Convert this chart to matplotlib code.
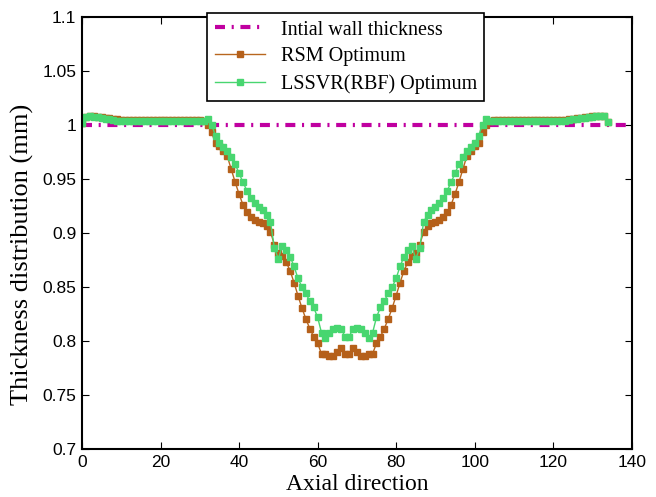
import numpy as np
import matplotlib.pyplot as plt

# axial node index
axial = np.arange(135)

# LSSVR(RBF) optimum thickness (mm)
lssvr = [1.002, 1.007, 1.008, 1.0075, 1.007, 1.006, 1.0055, 1.005, 1.0045, 1.004,
         1.004, 1.004, 1.004, 1.004, 1.004, 1.004, 1.004, 1.004, 1.004, 1.004,
         1.004, 1.004, 1.004, 1.004, 1.004, 1.004, 1.004, 1.004, 1.004, 1.004,
         1.004, 1.004, 1.005, 1.000, 0.990, 0.983, 0.9795, 0.976, 0.970, 0.964,
         0.955, 0.947, 0.939, 0.932, 0.928, 0.924, 0.921, 0.917, 0.910, 0.886,
         0.876, 0.888, 0.884, 0.878, 0.869, 0.858, 0.850, 0.844, 0.837, 0.831,
         0.822, 0.8075, 0.803, 0.8075, 0.8115, 0.812, 0.811, 0.804, 0.804, 0.811,
         0.812, 0.8115, 0.8075, 0.803, 0.8075, 0.822, 0.831, 0.837, 0.844, 0.850,
         0.858, 0.869, 0.878, 0.884, 0.888, 0.876, 0.886, 0.910, 0.917, 0.921,
         0.924, 0.928, 0.932, 0.939, 0.947, 0.955, 0.964, 0.970, 0.976, 0.9795,
         0.983, 0.990, 1.000, 1.005, 1.004, 1.004, 1.004, 1.004, 1.004, 1.004,
         1.004, 1.004, 1.004, 1.004, 1.004, 1.004, 1.004, 1.004, 1.004, 1.004,
         1.004, 1.004, 1.004, 1.004, 1.0045, 1.005, 1.0055, 1.006, 1.0065, 1.007,
         1.0075, 1.0078, 1.008, 1.008, 1.003]

# RSM optimum thickness (mm)
rsm = [1.002, 1.0075, 1.0085, 1.008, 1.0075, 1.007, 1.0065, 1.006, 1.0055, 1.005,
       1.0045, 1.0045, 1.0045, 1.0045, 1.0045, 1.0045, 1.0045, 1.0045, 1.0045, 1.0045,
       1.0045, 1.0045, 1.0045, 1.0045, 1.0045, 1.0045, 1.0045, 1.0045, 1.0045, 1.0045,
       1.0045, 1.004, 1.000, 0.993, 0.983, 0.980, 0.976, 0.971, 0.959, 0.947,
       0.936, 0.926, 0.919, 0.9145, 0.912, 0.910, 0.909, 0.9065, 0.901, 0.889,
       0.881, 0.879, 0.873, 0.865, 0.854, 0.842, 0.8306, 0.8205, 0.8115, 0.804,
       0.798, 0.788, 0.788, 0.786, 0.786, 0.790, 0.7937, 0.7876, 0.7876, 0.7937,
       0.790, 0.786, 0.786, 0.788, 0.788, 0.798, 0.804, 0.8115, 0.8205, 0.8306,
       0.842, 0.854, 0.865, 0.873, 0.879, 0.881, 0.889, 0.901, 0.9065, 0.909,
       0.910, 0.912, 0.9145, 0.919, 0.926, 0.936, 0.947, 0.959, 0.971, 0.976,
       0.980, 0.983, 0.993, 1.000, 1.004, 1.0045, 1.0045, 1.0045, 1.0045, 1.0045,
       1.0045, 1.0045, 1.0045, 1.0045, 1.0045, 1.0045, 1.0045, 1.0045, 1.0045, 1.0045,
       1.0045, 1.0045, 1.0045, 1.0045, 1.005, 1.0055, 1.006, 1.0065, 1.007, 1.0075,
       1.008, 1.0083, 1.0085, 1.0085, 1.003]

initial_x = [0, 140]
initial_t = [1.0, 1.0]

fig = plt.figure(figsize=(6.56, 4.97), dpi=100)
ax = fig.add_axes([0.125, 0.0966, 0.838, 0.8695])

ax.plot(initial_x, initial_t, color='#C000A0', lw=3,
        linestyle=(0, (2.4, 1.6, 0.5, 1.6)), label='Intial wall thickness')
ax.plot(axial, rsm, color='#B8661E', lw=1, marker='s', ms=3.8,
        mec='#B5601A', mfc='#B5601A', label='RSM Optimum')
ax.plot(axial, lssvr, color='#48D670', lw=1, marker='s', ms=4.0,
        mec='#48D670', mfc='#48D670', label='LSSVR(RBF) Optimum')

ax.set_xlim(0, 140)
ax.set_ylim(0.7, 1.1)
ax.set_xticks(np.arange(0, 141, 20))
ax.set_yticks([0.7, 0.75, 0.8, 0.85, 0.9, 0.95, 1.0, 1.05, 1.1])
ax.set_yticklabels(['0.7', '0.75', '0.8', '0.85', '0.9', '0.95', '1', '1.05', '1.1'])
ax.tick_params(direction='in', top=True, right=True, length=5, width=0.8,
               labelsize=12.5, pad=4)
for lab in ax.get_xticklabels() + ax.get_yticklabels():
    lab.set_family('Liberation Sans')
for s in ax.spines.values():
    s.set_linewidth(1.5)

ax.set_xlabel('Axial direction', family='Liberation Serif', fontsize=17, labelpad=3)
ax.set_ylabel('Thickness distribution (mm)', family='Liberation Serif', fontsize=19)
ax.yaxis.set_label_coords(-0.087, 0.45)

leg = ax.legend(loc='upper center', bbox_to_anchor=(0.48, 1.008),
                prop={'family': 'Liberation Serif', 'size': 14.5},
                fancybox=False, edgecolor='black', framealpha=1,
                handlelength=2.5, labelspacing=0.38, borderpad=0.35,
                handletextpad=0.8, borderaxespad=0)
leg.get_frame().set_linewidth(1.2)

fig.savefig('out.png', dpi=100)
